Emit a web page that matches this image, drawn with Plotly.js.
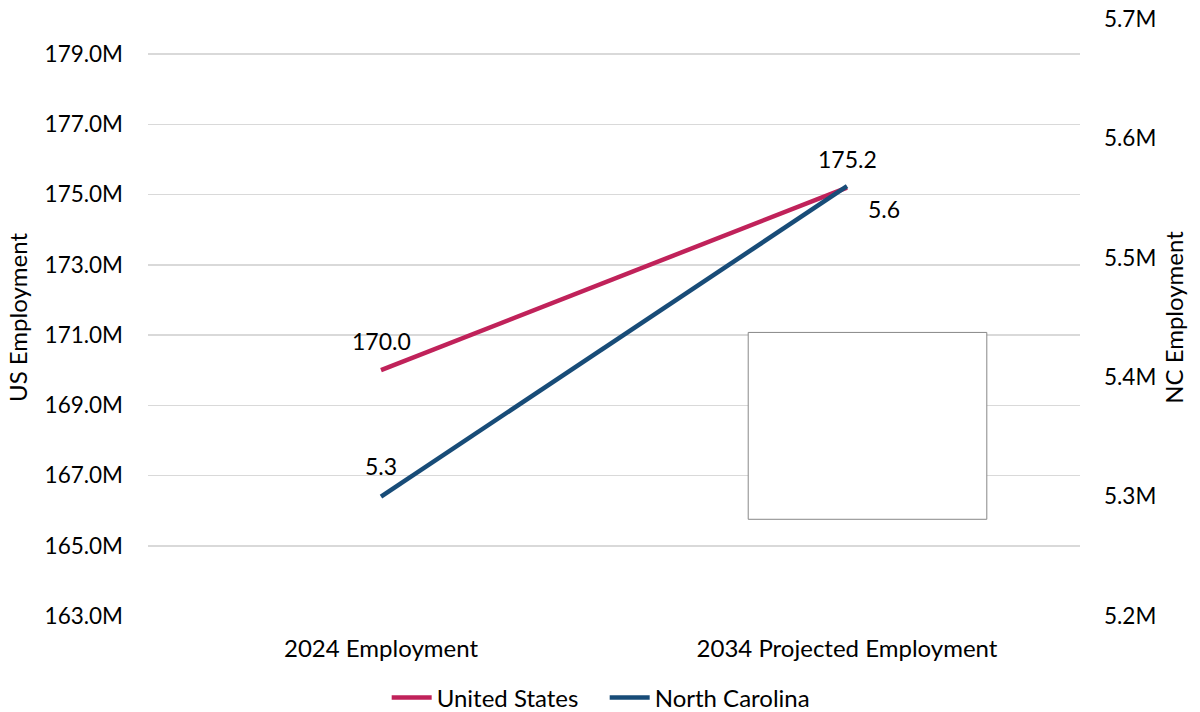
<!DOCTYPE html>
<html>
<head>
<meta charset="utf-8">
<script src="https://cdn.plot.ly/plotly-3.0.1.min.js"></script>
<style>html,body{margin:0;padding:0;background:#fff;}#chart{width:1200px;height:712px;}</style>
</head>
<body>
<div id="chart"></div>
<script>
const categories = ["2024 Employment", "2034 Projected Employment"];
const usValues = [170.0, 175.2];
const ncValues = [5.30, 5.56];
const usLabels = ["170.0", "175.2"];
const ncLabels = ["5.3", "5.6"];
const seriesNames = ["United States", "North Carolina"];
const usTickVals = [163, 165, 167, 169, 171, 173, 175, 177, 179];
const ncTickVals = [5.2, 5.3, 5.4, 5.5, 5.6, 5.7];

const FONT = "Lato, 'Open Sans', sans-serif";
const usColor = "#C0225A";
const ncColor = "#184C78";

const traces = [
  {x: categories, y: usValues, name: seriesNames[0], type: "scatter", mode: "lines",
   line: {color: usColor, width: 4.5}, yaxis: "y"},
  {x: categories, y: ncValues, name: seriesNames[1], type: "scatter", mode: "lines",
   line: {color: ncColor, width: 4.5}, yaxis: "y2"}
];

const annotations = [];
categories.forEach((c, i) => {
  annotations.push({x: c, y: usValues[i], xref: "x", yref: "y", text: usLabels[i],
    showarrow: false, yshift: 29, font: {family: FONT, size: 23, color: "#000"}});
  const nc = {x: c, y: ncValues[i], xref: "x", yref: "y2", text: ncLabels[i],
    showarrow: false, font: {family: FONT, size: 23, color: "#000"}};
  if (i === 0) { nc.yshift = 31; } else { nc.xshift = 37; nc.yshift = -23; }
  annotations.push(nc);
});

const layout = {
  width: 1200, height: 712,
  margin: {l: 148, r: 120, t: 19, b: 96, autoexpand: false},
  paper_bgcolor: "#fff", plot_bgcolor: "#fff",
  font: {family: FONT, size: 22, color: "#000"},
  showlegend: true,
  legend: {orientation: "h", x: 0.49, xanchor: "center", y: -0.137, yanchor: "middle",
    font: {family: FONT, size: 24, color: "#000"}, itemwidth: 40, tracegroupgap: 0,
    entrywidth: 163, entrywidthmode: "pixels"},
  xaxis: {type: "category", showgrid: false, zeroline: false, showline: false, automargin: false,
    ticks: "", ticklabelstandoff: 16, tickfont: {family: FONT, size: 24, color: "#000"},
    range: [-0.5, 1.5]},
  yaxis: {range: [163, 180], tickvals: usTickVals, ticktext: usTickVals.map(v => v.toFixed(1) + "M"),
    showgrid: true, gridcolor: "#D9D9D9", gridwidth: 1.5, zeroline: false, showline: false, automargin: false,
    ticks: "", ticklabelstandoff: 24, tickfont: {family: FONT, size: 22.5, color: "#000"},
    title: {text: "US Employment", standoff: 10, font: {family: FONT, size: 24, color: "#000"}}},
  yaxis2: {range: [5.2, 5.7], overlaying: "y", side: "right", tickvals: ncTickVals,
    ticktext: ncTickVals.map(v => v.toFixed(1) + "M"), automargin: false,
    showgrid: false, zeroline: false, showline: false, ticks: "", ticklabelstandoff: 23,
    tickfont: {family: FONT, size: 22.5, color: "#000"},
    title: {text: "NC Employment", standoff: 10, font: {family: FONT, size: 24, color: "#000"}}},
  annotations: annotations,
  shapes: [
    {type: "rect", xref: "paper", yref: "paper", x0: 0.644, x1: 0.900, y0: 0.162, y1: 0.475,
     fillcolor: "#fff", line: {color: "#888", width: 1}, layer: "above"}
  ]
};

Plotly.newPlot("chart", traces, layout, {displayModeBar: false, staticPlot: true});
</script>
</body>
</html>
